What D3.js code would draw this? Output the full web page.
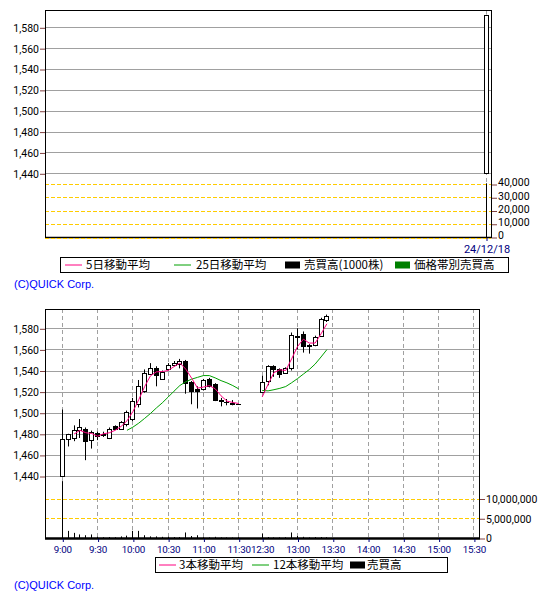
<!DOCTYPE html>
<html>
<head>
<meta charset="utf-8">
<script src="https://cdn.jsdelivr.net/npm/d3@7"></script>
<style>
  body { margin: 0; background: #fff; }
  svg text { font-family: Roboto, "Liberation Sans", sans-serif; }
  .jp { font-family: "Noto Sans CJK JP", sans-serif; }
</style>
</head>
<body>
<svg id="chart" width="550" height="600"></svg>
<script>
// ---- daily chart (top) ----
var dayLabels = ["24/12/18"];
var dayOpen = [1440];
var dayHigh = [1592];
var dayLow = [1440];
var dayClose = [1592];
var dayVolume = [40500];            // 1000 shares
var dayPriceTicks = [1440, 1460, 1480, 1500, 1520, 1540, 1560, 1580];
var dayVolumeTicks = [0, 10000, 20000, 30000, 40000];

// ---- 5 minute chart (bottom) ----
var times = ["9:00","9:05","9:10","9:15","9:20","9:25","9:30","9:35","9:40","9:45","9:50","9:55",
  "10:00","10:05","10:10","10:15","10:20","10:25","10:30","10:35","10:40","10:45","10:50","10:55",
  "11:00","11:05","11:10","11:15","11:20","11:25","11:30",
  "12:30","12:35","12:40","12:45","12:50","12:55","13:00","13:05","13:10","13:15","13:20","13:25"];
var open  = [1440,1475,1476,1484,1485,1474,1481,1479,1476,1487,1485,1489,1494,1508,1521,1537,1542,1532,1541,1545,1546,1549,1529,1522,1522,1532,1527,1512,1510,1509,1508,
  1520,1530,1544,1541,1538,1542,1573,1575,1564,1564,1573,1588];
var high  = [1503,1480,1488,1494,1486,1483,1482,1482,1486,1488,1492,1502,1514,1531,1541,1547,1544,1540,1547,1549,1551,1550,1530,1525,1532,1533,1528,1514,1513,1512,1508,
  1535,1545,1545,1542,1543,1576,1580,1577,1565,1573,1590,1593];
var low   = [1440,1468,1473,1476,1455,1466,1474,1477,1475,1484,1484,1487,1492,1505,1519,1536,1525,1531,1540,1544,1542,1518,1508,1504,1521,1524,1511,1506,1507,1507,1508,
  1520,1526,1534,1533,1537,1540,1560,1557,1556,1563,1572,1586];
var close = [1475,1480,1484,1486,1473,1482,1478,1480,1485,1485,1491,1501,1511,1525,1538,1542,1536,1539,1545,1547,1549,1528,1521,1521,1531,1525,1512,1511,1510,1508,1508,
  1529,1544,1541,1537,1542,1574,1572,1563,1563,1572,1589,1592];
var volume = [14400000,1800000,1300000,900000,700000,900000,300000,200000,250000,200000,400000,600000,1800000,1800000,700000,400000,400000,300000,300000,250000,250000,1400000,500000,700000,200000,150000,300000,150000,150000,100000,200000,
  1100000,250000,150000,150000,200000,1400000,500000,300000,150000,250000,250000,200000];
var ma3 = [null,null,1479.7,1483.3,1481.0,1480.3,1477.7,1480.0,1481.0,1483.3,1487.0,1492.3,1501.0,1512.3,1524.7,1535.0,1538.7,1539.0,1540.0,1543.7,1547.0,1541.3,1532.7,1523.3,1524.3,1525.7,1522.7,1516.0,1511.0,1509.7,1508.7,
  1515.0,1527.0,1538.0,1540.7,1540.0,1551.0,1562.7,1569.7,1566.0,1566.0,1574.7,1584.3];
var ma12 = [null,null,null,null,null,null,null,null,null,null,null,1483.3,1486.3,1490.1,1494.6,1499.3,1504.5,1509.3,1514.8,1520.4,1525.8,1529.3,1531.8,1533.5,1535.2,1535.2,1533.0,1530.4,1528.3,1525.7,1522.6,
  1521.1,1520.7,1521.8,1523.1,1524.8,1528.4,1532.3,1536.6,1540.9,1546.1,1552.8,1559.8];
var timeTicks = ["9:00","9:30","10:00","10:30","11:00","11:30","12:30","13:00","13:30","14:00","14:30","15:00","15:30"];
var intraPriceTicks = [1440, 1460, 1480, 1500, 1520, 1540, 1560, 1580];
var intraVolumeTicks = [0, 5000000, 10000000];

var GRID = "#a0a0a0", GOLD = "#ffcc00", TICK = "#804040", NAVY = "#000080";
var PINK = "#ff0080", GREEN = "#00a000";

var svg = d3.select("#chart");

// 5 minute slots, lunch break squeezed to 4 slots
function slotOf(t) {
  var p = t.split(":");
  var m = (+p[0]) * 60 + (+p[1]) - 540;
  return m >= 210 ? m / 5 - 8 : m / 5;
}
function px(v) { return Math.floor(v) + 0.5; }

function styleAxis(g, color, textColor, size) {
  g.select(".domain").remove();
  g.selectAll("line").attr("stroke", color);
  g.selectAll("text").attr("fill", textColor).attr("font-size", size)
    .attr("font-family", "Roboto, 'Liberation Sans', sans-serif");
}

function drawCandle(g, cx, o, h, l, c, y) {
  var xc = px(cx);
  g.append("line").attr("x1", xc).attr("x2", xc)
    .attr("y1", y(h)).attr("y2", y(l)).attr("stroke", "#000");
  var yt = Math.round(y(Math.max(o, c))) + 0.5, yb = Math.round(y(Math.min(o, c))) + 0.5;
  if (yb - yt < 1) {
    g.append("line").attr("x1", xc - 2.5).attr("x2", xc + 2.5)
      .attr("y1", yt).attr("y2", yt).attr("stroke", "#000");
  } else {
    g.append("rect").attr("x", xc - 2).attr("y", yt)
      .attr("width", 4).attr("height", yb - yt)
      .attr("fill", c >= o ? "#fff" : "#000").attr("stroke", "#000");
  }
}

// ================= top (daily) =================
var dayBox = {x0: 45, x1: 491, y0: 10, y1: 237};
var dx = d3.scalePoint().domain(dayLabels).range([486, 486]);
var dy = d3.scaleLinear().domain([1440, 1580]).range([173.3, 27.3]);
var dv = d3.scaleLinear().domain([0, 40000]).range([237, 184]);

var gd = svg.append("g");
gd.selectAll(".pg").data(dayPriceTicks).enter().append("line")
  .attr("x1", dayBox.x0).attr("x2", dayBox.x1)
  .attr("y1", function(d) { return Math.round(dy(d)) + 0.5; })
  .attr("y2", function(d) { return Math.round(dy(d)) + 0.5; })
  .attr("stroke", GRID);
gd.selectAll(".vg").data(dayVolumeTicks.slice(1)).enter().append("line")
  .attr("x1", dayBox.x0).attr("x2", dayBox.x1)
  .attr("y1", function(d) { return Math.round(dv(d)) + 0.5; })
  .attr("y2", function(d) { return Math.round(dv(d)) + 0.5; })
  .attr("stroke", GOLD).attr("stroke-dasharray", "4,2");
gd.selectAll(".dg").data(dayLabels).enter().append("line")
  .attr("x1", function(d) { return px(dx(d)); }).attr("x2", function(d) { return px(dx(d)); })
  .attr("y1", dayBox.y0).attr("y2", dayBox.y1)
  .attr("stroke", GRID).attr("stroke-dasharray", "4,3");

dayLabels.forEach(function(d, i) {
  drawCandle(gd, dx(d), dayOpen[i], dayHigh[i], dayLow[i], dayClose[i], dy);
  gd.append("line").attr("x1", px(dx(d))).attr("x2", px(dx(d)))
    .attr("y1", dv(0)).attr("y2", dv(dayVolume[i])).attr("stroke", "#000");
});

gd.append("rect").attr("x", dayBox.x0 + 0.5).attr("y", dayBox.y0 + 0.5)
  .attr("width", dayBox.x1 - dayBox.x0).attr("height", dayBox.y1 - dayBox.y0)
  .attr("fill", "none").attr("stroke", "#000");
gd.append("line").attr("x1", dayBox.x0).attr("x2", dayBox.x1 + 1)
  .attr("y1", dayBox.y1 + 0.5).attr("y2", dayBox.y1 + 0.5).attr("stroke", "#000").attr("stroke-width", 1.5);
gd.append("line").attr("x1", dayBox.x0).attr("x2", dayBox.x1)
  .attr("y1", dayBox.y1 + 1.5).attr("y2", dayBox.y1 + 1.5).attr("stroke", GOLD).attr("stroke-dasharray", "4,2");

gd.append("g").attr("transform", "translate(" + dayBox.x0 + ",0.5)")
  .call(d3.axisLeft(dy).tickValues(dayPriceTicks).tickFormat(d3.format(",")).tickSize(5).tickPadding(1))
  .call(styleAxis, TICK, "#000", 10.5);
gd.append("g").attr("transform", "translate(" + (dayBox.x1 + 1) + ",-1.5)")
  .call(d3.axisRight(dv).tickValues(dayVolumeTicks).tickFormat(d3.format(",")).tickSize(5).tickPadding(1))
  .call(styleAxis, TICK, "#000", 10.5)
  .selectAll("line").attr("transform", "translate(0,2)");
gd.append("g").attr("transform", "translate(0.5," + (dayBox.y1 + 1) + ")")
  .call(d3.axisBottom(dx).tickSize(3).tickPadding(4))
  .call(styleAxis, NAVY, NAVY, 11);

// ================= bottom (5 min) =================
var inBox = {x0: 45, x1: 479, y0: 309, y1: 538};
var x = d3.scaleLinear().domain([0, 70]).range([62.3, 473.9]);
var y = d3.scaleLinear().domain([1440, 1580]).range([476, 328.3]);
var v = d3.scaleLinear().domain([0, 10000000]).range([538, 498.5]);

var gi = svg.append("g");
gi.selectAll(".pg").data(intraPriceTicks).enter().append("line")
  .attr("x1", inBox.x0).attr("x2", inBox.x1)
  .attr("y1", function(d) { return Math.round(y(d)) + 0.5; })
  .attr("y2", function(d) { return Math.round(y(d)) + 0.5; })
  .attr("stroke", GRID);
gi.selectAll(".vg").data(intraVolumeTicks.slice(1)).enter().append("line")
  .attr("x1", inBox.x0).attr("x2", inBox.x1)
  .attr("y1", function(d) { return Math.round(v(d)) + 0.5; })
  .attr("y2", function(d) { return Math.round(v(d)) + 0.5; })
  .attr("stroke", GOLD).attr("stroke-dasharray", "4,2");
gi.selectAll(".tg").data(timeTicks).enter().append("line")
  .attr("x1", function(d) { return px(x(slotOf(d))); })
  .attr("x2", function(d) { return px(x(slotOf(d))); })
  .attr("y1", inBox.y0).attr("y2", inBox.y1)
  .attr("stroke", GRID).attr("stroke-dasharray", "4,3");

// moving averages, one piece per session
function maPath(vals, color) {
  var line = d3.line()
    .defined(function(d) { return vals[d] != null; })
    .x(function(d) { return x(slotOf(times[d])); })
    .y(function(d) { return y(vals[d]); });
  var am = d3.range(times.length).filter(function(i) { return slotOf(times[i]) <= 30; });
  var pm = d3.range(times.length).filter(function(i) { return slotOf(times[i]) > 30; });
  [am, pm].forEach(function(idx) {
    gi.append("path").attr("d", line(idx)).attr("fill", "none")
      .attr("stroke", color).attr("stroke-width", 1);
  });
}

times.forEach(function(t, i) {
  drawCandle(gi, x(slotOf(t)), open[i], high[i], low[i], close[i], y);
  gi.append("line").attr("x1", px(x(slotOf(t)))).attr("x2", px(x(slotOf(t))))
    .attr("y1", v(0)).attr("y2", v(volume[i])).attr("stroke", "#000");
});
maPath(ma12, GREEN);
maPath(ma3, PINK);

gi.append("rect").attr("x", inBox.x0 + 0.5).attr("y", inBox.y0 + 0.5)
  .attr("width", inBox.x1 - inBox.x0).attr("height", inBox.y1 - inBox.y0)
  .attr("fill", "none").attr("stroke", "#000");
gi.append("line").attr("x1", inBox.x0).attr("x2", inBox.x1 + 1)
  .attr("y1", inBox.y1 + 0.5).attr("y2", inBox.y1 + 0.5).attr("stroke", "#000").attr("stroke-width", 2.5);

gi.append("g").attr("transform", "translate(" + inBox.x0 + ",0.5)")
  .call(d3.axisLeft(y).tickValues(intraPriceTicks).tickFormat(d3.format(",")).tickSize(5).tickPadding(1))
  .call(styleAxis, TICK, "#000", 10.5);
gi.append("g").attr("transform", "translate(" + (inBox.x1 + 1) + ",0.5)")
  .call(d3.axisRight(v).tickValues(intraVolumeTicks).tickFormat(d3.format(",")).tickSize(5).tickPadding(1))
  .call(styleAxis, TICK, "#000", 10.5);
gi.append("g").attr("transform", "translate(0," + (inBox.y1 + 1) + ")")
  .call(d3.axisBottom(x).tickValues(timeTicks.map(slotOf))
    .tickFormat(function(d, i) { return timeTicks[i]; }).tickSize(3).tickPadding(4))
  .call(styleAxis, NAVY, NAVY, 9.8)
  .call(function(g) {
    g.selectAll("line").attr("transform", "translate(0.5,0)");
    g.selectAll("text").attr("letter-spacing", -0.2);
  });

// ================= legends =================
function legend(bx, items) {
  var g = svg.append("g");
  g.append("rect").attr("x", bx.x + 0.5).attr("y", bx.y + 0.5)
    .attr("width", bx.w).attr("height", bx.h).attr("fill", "#fff").attr("stroke", "#000");
  var cy = bx.y + bx.h / 2 + 0.5;
  items.forEach(function(it) {
    if (it.kind === "line") {
      g.append("line").attr("x1", it.x).attr("x2", it.x + 17)
        .attr("y1", cy).attr("y2", cy).attr("stroke", it.color);
    } else {
      g.append("rect").attr("x", it.x).attr("y", cy - 3.5)
        .attr("width", 15).attr("height", 7).attr("fill", it.color);
    }
    g.append("text").attr("class", "jp").attr("x", it.tx).attr("y", cy + 4)
      .attr("font-size", 11.5).attr("fill", "#000").text(it.label);
  });
}
legend({x: 60, y: 257, w: 448, h: 15}, [
  {kind: "line", color: PINK, x: 65, tx: 86, label: "5日移動平均"},
  {kind: "line", color: GREEN, x: 174, tx: 196, label: "25日移動平均"},
  {kind: "rect", color: "#000", x: 285, tx: 304, label: "売買高(1000株)"},
  {kind: "rect", color: "#008000", x: 395, tx: 414, label: "価格帯別売買高"}
]);
legend({x: 155, y: 557, w: 292, h: 15}, [
  {kind: "line", color: PINK, x: 159, tx: 179, label: "3本移動平均"},
  {kind: "line", color: GREEN, x: 252, tx: 273, label: "12本移動平均"},
  {kind: "rect", color: "#000", x: 350, tx: 367, label: "売買高"}
]);

[288, 589].forEach(function(ty) {
  svg.append("text").attr("x", 14).attr("y", ty)
    .attr("font-size", 11).attr("fill", "#0000ff")
    .style("font-family", "'Liberation Sans', sans-serif")
    .text("(C)QUICK Corp.");
});
</script>
</body>
</html>
